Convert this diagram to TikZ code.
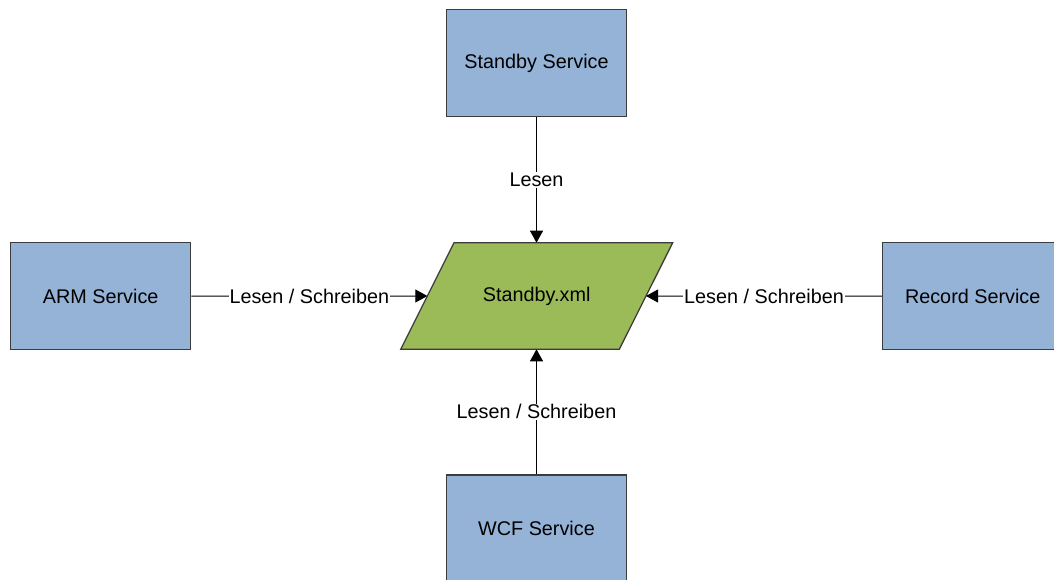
\documentclass[tikz,border=0pt]{standalone}
\usepackage{fontspec}
\setmainfont{Liberation Sans}
\usetikzlibrary{arrows.meta,calc}
\definecolor{svcblue}{RGB}{149,179,215}
\definecolor{filegreen}{RGB}{155,187,89}
\definecolor{edgegray}{RGB}{60,60,60}
\tikzset{
  service/.style={draw=edgegray, line width=1.3pt, fill=svcblue, minimum width=180pt, minimum height=107pt, inner sep=0pt, font=\fontsize{19.8}{23}\selectfont},
  conn/.style={draw=black, line width=1pt, -{Triangle[length=12pt,width=13pt]}},
  lbl/.style={fill=white, inner sep=1pt, font=\fontsize{19.8}{23}\selectfont}
}
\begin{document}
\begin{tikzpicture}[x=1pt,y=-1pt]
  \useasboundingbox (0,0) rectangle (1054,580);
  \clip (0,0) rectangle (1054,580);
  \fill[white] (0,0) rectangle (1054,580);

  % service boxes
  \node[service] (standby) at (536.5,63) {Standby Service};
  \node[service] (arm) at (100.7,296) {ARM Service};
  \node[service] (record) at (972.7,296) {Record Service};
  \node[service] (wcf) at (536.5,528.5) {WCF Service};

  % data file (parallelogram)
  \coordinate (p1) at (454,242.7);
  \coordinate (p2) at (672.7,242.7);
  \coordinate (p3) at (619.3,349.3);
  \coordinate (p4) at (400.7,349.3);
  \draw[draw=edgegray, line width=1.3pt, fill=filegreen] (p1) -- (p2) -- (p3) -- (p4) -- cycle;
  \node[font=\fontsize{19.8}{23}\selectfont] (xml) at (536.7,296) {Standby.xml};
  \coordinate (xmlW) at ($(p4)!0.5!(p1)$);
  \coordinate (xmlE) at ($(p3)!0.5!(p2)$);
  \coordinate (xmlN) at (standby.south |- p1);
  \coordinate (xmlS) at (wcf.north |- p4);

  % access connectors
  \draw[conn] (standby.south) -- node[lbl] {Lesen} (xmlN);
  \draw[conn] (arm.east) -- node[lbl] {Lesen / Schreiben} (xmlW);
  \draw[conn] (record.west) -- node[lbl] {Lesen / Schreiben} (xmlE);
  \draw[conn] (wcf.north) -- node[lbl] {Lesen / Schreiben} (xmlS);
\end{tikzpicture}
\end{document}
